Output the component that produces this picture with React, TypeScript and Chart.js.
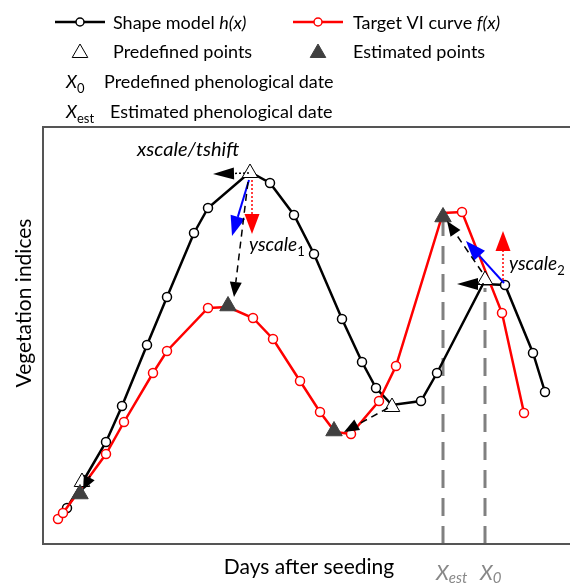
import React, { useEffect, useRef } from "react";
import Chart from "chart.js/auto";

// Shape model h(x)
const shapeX = [24, 39, 63, 79, 104, 124, 151, 165, 207, 227, 251, 271, 299, 319, 333, 349, 378, 394, 440, 462, 490, 502];
const shapeY = [36, 61, 102, 138, 199, 247, 311, 336, 372, 361, 329, 290, 225, 182, 156, 139, 143, 171, 260, 259, 191, 152];
const shapeHidden = [1, 8, 15, 18];

// Target VI curve f(x)
const targetX = [15, 20, 63, 81, 110, 124, 165, 185, 210, 230, 257, 277, 292, 308, 336, 353, 400, 419, 459, 481];
const targetY = [25, 31, 90, 122, 171, 193, 236, 237, 226, 205, 163, 132, 112, 110, 143, 178, 331, 332, 231, 131];
const targetHidden = [7, 12, 16];

// Predefined / estimated points
const predefX = [39, 207, 349, 442];
const predefY = [62, 371, 137, 264];
const estX = [37, 185, 291, 400];
const estY = [50, 238, 113, 327];

// Phenological dates
const xEst = 400;
const xEstTop = 322;
const x0 = 442;
const x0Top = 256;

// Arrows: [x1, y1, x2, y2, kind]
const arrows: [number, number, number, number, string][] = [
  [206, 371, 170, 370, "dottedBlack"],
  [206, 364, 189, 308, "blue"],
  [209, 364, 209, 310, "dottedRed"],
  [205, 362, 191, 247, "dashedBlack"],
  [441, 260, 414, 260, "dottedBlack"],
  [461, 261, 423, 303, "blue"],
  [460, 264, 460, 313, "dottedRed"],
  [439, 272, 404, 323, "dashedBlack"],
  [345, 136, 301, 112, "dashedBlack"],
  [47, 68, 40, 54, "smallBlack"],
];

const arrowStyle: Record<string, { color: string; width: number; dash: number[]; len: number; half: number }> = {
  dottedBlack: { color: "#000", width: 1.5, dash: [2, 2], len: 21, half: 6 },
  blue: { color: "#0000ff", width: 2, dash: [], len: 20, half: 7.5 },
  dottedRed: { color: "#ff0000", width: 1.5, dash: [2, 2], len: 20, half: 7.5 },
  dashedBlack: { color: "#000", width: 1.5, dash: [7, 5], len: 15, half: 6 },
  smallBlack: { color: "#000", width: 2, dash: [], len: 14, half: 6 },
};

const FONT = "Lato, 'Open Sans', sans-serif";

type Seg = { t: string; f: string; dy?: number; c?: string };
function rich(ctx: CanvasRenderingContext2D, x: number, y: number, segs: Seg[]) {
  let cx = x;
  ctx.textBaseline = "alphabetic";
  ctx.textAlign = "left";
  for (const s of segs) {
    ctx.font = s.f;
    ctx.fillStyle = s.c || "#000";
    ctx.fillText(s.t, cx, y + (s.dy || 0));
    cx += ctx.measureText(s.t).width;
  }
}

function drawArrow(ctx: CanvasRenderingContext2D, x1: number, y1: number, x2: number, y2: number, st: any) {
  const ang = Math.atan2(y2 - y1, x2 - x1);
  const bx = x2 - st.len * Math.cos(ang);
  const by = y2 - st.len * Math.sin(ang);
  ctx.save();
  ctx.strokeStyle = st.color;
  ctx.lineWidth = st.width;
  ctx.setLineDash(st.dash);
  ctx.beginPath();
  ctx.moveTo(x1, y1);
  ctx.lineTo(bx, by);
  ctx.stroke();
  ctx.setLineDash([]);
  ctx.fillStyle = st.color;
  ctx.beginPath();
  ctx.moveTo(x2, y2);
  ctx.lineTo(bx + st.half * Math.sin(ang), by - st.half * Math.cos(ang));
  ctx.lineTo(bx - st.half * Math.sin(ang), by + st.half * Math.cos(ang));
  ctx.closePath();
  ctx.fill();
  ctx.restore();
}

function triangle(ctx: CanvasRenderingContext2D, x: number, y: number, r: number, fill: string, stroke: string) {
  ctx.save();
  ctx.beginPath();
  for (let i = 0; i < 3; i++) {
    const a = (i * 2 * Math.PI) / 3;
    const px = x + Math.sin(a) * r;
    const py = y - Math.cos(a) * r;
    if (i === 0) ctx.moveTo(px, py);
    else ctx.lineTo(px, py);
  }
  ctx.closePath();
  ctx.fillStyle = fill;
  ctx.fill();
  ctx.strokeStyle = stroke;
  ctx.lineWidth = 1;
  ctx.stroke();
  ctx.restore();
}

const decorPlugin = {
  id: "decor",
  afterDatasetsDraw(chart: any) {
    const ctx: CanvasRenderingContext2D = chart.ctx;
    const xs = chart.scales.x;
    const ys = chart.scales.y;
    for (const a of arrows) {
      drawArrow(ctx, xs.getPixelForValue(a[0]), ys.getPixelForValue(a[1]), xs.getPixelForValue(a[2]), ys.getPixelForValue(a[3]), arrowStyle[a[4]]);
    }
  },
  afterDraw(chart: any) {
    const ctx: CanvasRenderingContext2D = chart.ctx;
    const { left, top, bottom } = chart.chartArea;
    ctx.save();
    // frame
    ctx.strokeStyle = "#555";
    ctx.lineWidth = 2;
    ctx.beginPath();
    ctx.moveTo(570, top);
    ctx.lineTo(left, top);
    ctx.lineTo(left, bottom);
    ctx.lineTo(570, bottom);
    ctx.stroke();

    // legend row 1
    ctx.lineWidth = 2.5;
    ctx.strokeStyle = "#000";
    ctx.beginPath(); ctx.moveTo(55, 22); ctx.lineTo(105, 22); ctx.stroke();
    ctx.strokeStyle = "#ff0000";
    ctx.beginPath(); ctx.moveTo(293, 22); ctx.lineTo(343, 22); ctx.stroke();
    ctx.lineWidth = 1.5;
    ctx.fillStyle = "#fff";
    ctx.strokeStyle = "#000";
    ctx.beginPath(); ctx.arc(80, 22, 4, 0, Math.PI * 2); ctx.fill(); ctx.stroke();
    ctx.strokeStyle = "#ff0000";
    ctx.beginPath(); ctx.arc(318, 22, 4, 0, Math.PI * 2); ctx.fill(); ctx.stroke();
    const f18 = `18px ${FONT}`;
    const i18 = `italic 18px ${FONT}`;
    rich(ctx, 113, 29, [{ t: "Shape model ", f: f18 }, { t: "h(x)", f: i18 }]);
    rich(ctx, 353, 29, [{ t: "Target VI curve ", f: f18 }, { t: "f(x)", f: i18 }]);
    // row 2
    triangle(ctx, 80, 53, 9, "#fff", "#000");
    triangle(ctx, 318, 53, 9, "#404040", "#404040");
    rich(ctx, 113, 58, [{ t: "Predefined points", f: f18 }]);
    rich(ctx, 353, 58, [{ t: "Estimated points", f: f18 }]);
    // row 3, 4
    rich(ctx, 66, 88, [{ t: "X", f: i18 }, { t: "0", f: `13px ${FONT}`, dy: 5 }]);
    rich(ctx, 104, 88, [{ t: "Predefined phenological date", f: f18 }]);
    rich(ctx, 66, 118, [{ t: "X", f: i18 }, { t: "est", f: `13px ${FONT}`, dy: 5 }]);
    rich(ctx, 110, 118, [{ t: "Estimated phenological date", f: f18 }]);

    // annotations
    const i20 = `italic 20px ${FONT}`;
    const i19 = `italic 19px ${FONT}`;
    rich(ctx, 137, 156, [{ t: "xscale/tshift", f: i20 }]);
    rich(ctx, 249, 251, [{ t: "yscale", f: i19 }, { t: "1", f: `13px ${FONT}`, dy: 5 }]);
    rich(ctx, 509, 270, [{ t: "yscale", f: i19 }, { t: "2", f: `13px ${FONT}`, dy: 5 }]);
    rich(ctx, 436, 580, [{ t: "X", f: `italic 21px ${FONT}`, c: "#888" }, { t: "est", f: `italic 15px ${FONT}`, dy: 3, c: "#888" }]);
    rich(ctx, 480, 580, [{ t: "X", f: `italic 21px ${FONT}`, c: "#888" }, { t: "0", f: `italic 15px ${FONT}`, dy: 3, c: "#888" }]);

    // axis titles
    ctx.fillStyle = "#000";
    ctx.font = `21px ${FONT}`;
    ctx.textAlign = "center";
    ctx.textBaseline = "alphabetic";
    ctx.fillText("Days after seeding", 309, 574);
    ctx.translate(31, 303);
    ctx.rotate(-Math.PI / 2);
    ctx.fillText("Vegetation indices", 0, 0);
    ctx.restore();
  },
};

export default function App() {
  const ref = useRef<HTMLCanvasElement | null>(null);
  useEffect(() => {
    if (!ref.current) return;
    const pts = (xs: number[], ys: number[]) => xs.map((x, i) => ({ x, y: ys[i] }));
    const chart = new Chart(ref.current, {
      type: "line",
      data: {
        datasets: [
          {
            label: "Estimated points",
            data: pts(estX, estY),
            showLine: false,
            pointStyle: "triangle",
            pointRadius: 9.5,
            pointBackgroundColor: "#404040",
            pointBorderColor: "#404040",
            pointBorderWidth: 1,
            order: 0,
          },
          {
            label: "Predefined points",
            data: pts(predefX, predefY),
            showLine: false,
            pointStyle: "triangle",
            pointRadius: 9,
            pointBackgroundColor: "#fff",
            pointBorderColor: "#000",
            pointBorderWidth: 1,
            order: 1,
          },
          {
            label: "Target VI curve f(x)",
            data: pts(targetX, targetY),
            borderColor: "#ff0000",
            borderWidth: 2.5,
            pointRadius: targetX.map((_, i) => (targetHidden.includes(i) ? 0 : 4.5)),
            pointBackgroundColor: "#fff",
            pointBorderColor: "#ff0000",
            pointBorderWidth: 1.5,
            tension: 0,
            order: 2,
          },
          {
            label: "Shape model h(x)",
            data: pts(shapeX, shapeY),
            borderColor: "#000",
            borderWidth: 2.5,
            pointRadius: shapeX.map((_, i) => (shapeHidden.includes(i) ? 0 : 4.5)),
            pointBackgroundColor: "#fff",
            pointBorderColor: "#000",
            pointBorderWidth: 1.5,
            tension: 0,
            order: 3,
          },
          {
            label: "Xest",
            data: [{ x: xEst, y: 0 }, { x: xEst, y: xEstTop }],
            borderColor: "#808080",
            borderWidth: 3,
            borderDash: [18, 10],
            pointRadius: 0,
            order: 5,
          },
          {
            label: "X0",
            data: [{ x: x0, y: 0 }, { x: x0, y: x0Top }],
            borderColor: "#808080",
            borderWidth: 3,
            borderDash: [18, 10],
            pointRadius: 0,
            order: 6,
          },
        ],
      },
      options: {
        responsive: false,
        animation: false,
        layout: { autoPadding: false, padding: { left: 43, top: 127, right: 0, bottom: 39 } },
        scales: {
          x: { type: "linear", min: 0, max: 527, display: false },
          y: { type: "linear", min: 0, max: 417, display: false },
        },
        plugins: { legend: { display: false }, tooltip: { enabled: false } },
      },
      plugins: [decorPlugin],
    });
    return () => chart.destroy();
  }, []);
  return (
    <div style={{ position: "absolute", left: 0, top: 0, width: 570, height: 583, background: "#fff" }}>
      <canvas ref={ref} width={570} height={583} style={{ display: "block" }} />
    </div>
  );
}
